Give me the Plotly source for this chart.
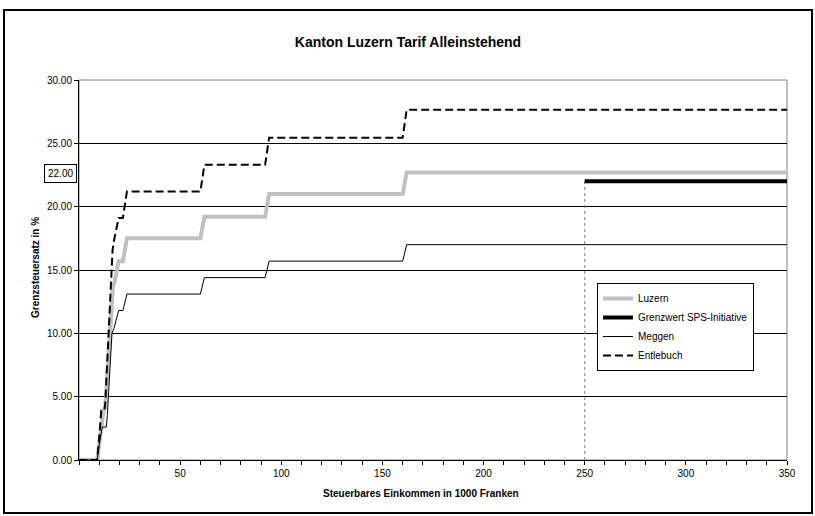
import plotly.graph_objects as go

# ---- data (income in 1000 Fr., marginal tax rate in %) ----
luzern_x = [0, 9, 10, 11, 12, 13, 16.8, 17.5, 19.6, 21.7, 23.7, 60, 62, 92, 94, 160, 162, 350]
luzern_y = [0, 0, 1.3, 2.3, 3.7, 4.2, 13.7, 14.0, 15.7, 15.7, 17.5, 17.5, 19.2, 19.2, 21.0, 21.0, 22.7, 22.7]

meggen_x = [0, 9, 10, 11, 11.5, 13.5, 14, 16.3, 17.3, 19.6, 21.7, 23.7, 60, 62, 92, 94, 160, 162, 350]
meggen_y = [0, 0, 1.2, 2.2, 2.6, 2.6, 3.5, 10.0, 10.4, 11.8, 11.8, 13.1, 13.1, 14.4, 14.4, 15.7, 15.7, 17.0, 17.0]

entlebuch_x = [0, 9, 10, 11, 12.5, 13, 16.6, 17.5, 19.6, 21.7, 23.7, 60, 62, 92, 94, 160, 162, 350]
entlebuch_y = [0, 0, 1.8, 3.9, 3.9, 4.5, 16.6, 17.5, 19.1, 19.1, 21.2, 21.2, 23.3, 23.3, 25.45, 25.45, 27.65, 27.65]

sps_x = [250, 350]
sps_y = [22, 22]
sps_drop_x = [250, 250]
sps_drop_y = [0, 22]

x_tick_vals = list(range(0, 351, 10))
x_tick_text = [str(v) if (v % 50 == 0 and v > 0) else "" for v in x_tick_vals]
y_tick_vals = [0, 5, 10, 15, 20, 25, 30]

FONT = "Arial, Liberation Sans, sans-serif"

fig = go.Figure()

fig.add_trace(go.Scatter(x=sps_drop_x, y=sps_drop_y, mode="lines",
                         line=dict(color="#808080", width=1, dash="dot"),
                         showlegend=False, hoverinfo="skip"))
fig.add_trace(go.Scatter(x=luzern_x, y=luzern_y, mode="lines", name="Luzern",
                         line=dict(color="#c0c0c0", width=4)))
fig.add_trace(go.Scatter(x=sps_x, y=sps_y, mode="lines", name="Grenzwert SPS-Initiative",
                         line=dict(color="black", width=4)))
fig.add_trace(go.Scatter(x=meggen_x, y=meggen_y, mode="lines", name="Meggen",
                         line=dict(color="black", width=1)))
fig.add_trace(go.Scatter(x=entlebuch_x, y=entlebuch_y, mode="lines", name="Entlebuch",
                         line=dict(color="black", width=2, dash="8px,4px")))

fig.update_layout(
    width=815, height=516,
    margin=dict(l=79, r=28, t=80, b=56),
    paper_bgcolor="white", plot_bgcolor="white",
    font=dict(family=FONT, size=10, color="black"),
    title=dict(text="<b>Kanton Luzern Tarif Alleinstehend</b>",
               x=408 / 815, xref="container", xanchor="center",
               y=1 - 42 / 516, yref="container", yanchor="middle",
               font=dict(size=14, family=FONT, color="black")),
    showlegend=True,
    legend=dict(x=(597 - 79) / 708, y=(460 - 283) / 380, xanchor="left", yanchor="top",
                bgcolor="white", bordercolor="black", borderwidth=1,
                font=dict(size=10, family=FONT), tracegroupgap=0,
                itemwidth=30),
)

fig.update_xaxes(range=[0, 350], tickmode="array", tickvals=x_tick_vals, ticktext=x_tick_text,
                 ticks="outside", ticklen=4, tickcolor="black", showgrid=False,
                 showline=True, linecolor="black", linewidth=1, zeroline=False,
                 tickfont=dict(size=10, family=FONT))
fig.update_yaxes(range=[0, 30], tickmode="array", tickvals=y_tick_vals,
                 tickformat=".2f", ticks="outside", ticklen=4, tickcolor="black",
                 showgrid=True, gridcolor="black", gridwidth=1,
                 showline=True, linecolor="black", linewidth=1, zeroline=False,
                 tickfont=dict(size=10, family=FONT))

# plot area border (gray) and outer chart border
fig.add_shape(type="rect", xref="paper", yref="paper", x0=0, x1=1, y0=0, y1=1,
              line=dict(color="#808080", width=1), layer="below")
fig.add_shape(type="rect", xref="paper", yref="paper",
              x0=(4 - 79) / 708, x1=(812 - 79) / 708,
              y0=(460 - 513) / 380, y1=(460 - 10) / 380,
              line=dict(color="black", width=2))

# axis titles
fig.add_annotation(text="<b>Grenzsteuersatz in %</b>", xref="paper", yref="paper",
                   x=(35 - 79) / 708, y=(460 - 268) / 380, textangle=-90, showarrow=False,
                   xanchor="center", yanchor="middle",
                   font=dict(size=10, family=FONT))
fig.add_annotation(text="<b>Steuerbares Einkommen in 1000 Franken</b>", xref="paper", yref="paper",
                   x=(421 - 79) / 708, y=(460 - 493) / 380, showarrow=False,
                   xanchor="center", yanchor="middle",
                   font=dict(size=10, family=FONT))
# boxed label
fig.add_annotation(text="22.00", xref="paper", yref="paper",
                   x=(60 - 79) / 708, y=(460 - 173) / 380, showarrow=False,
                   xanchor="center", yanchor="middle",
                   bordercolor="black", borderwidth=1, borderpad=3, bgcolor="white",
                   font=dict(size=10, family=FONT))

fig.write_html("out.html", config={"displayModeBar": False},
               post_script="document.body.style.margin='0';")
